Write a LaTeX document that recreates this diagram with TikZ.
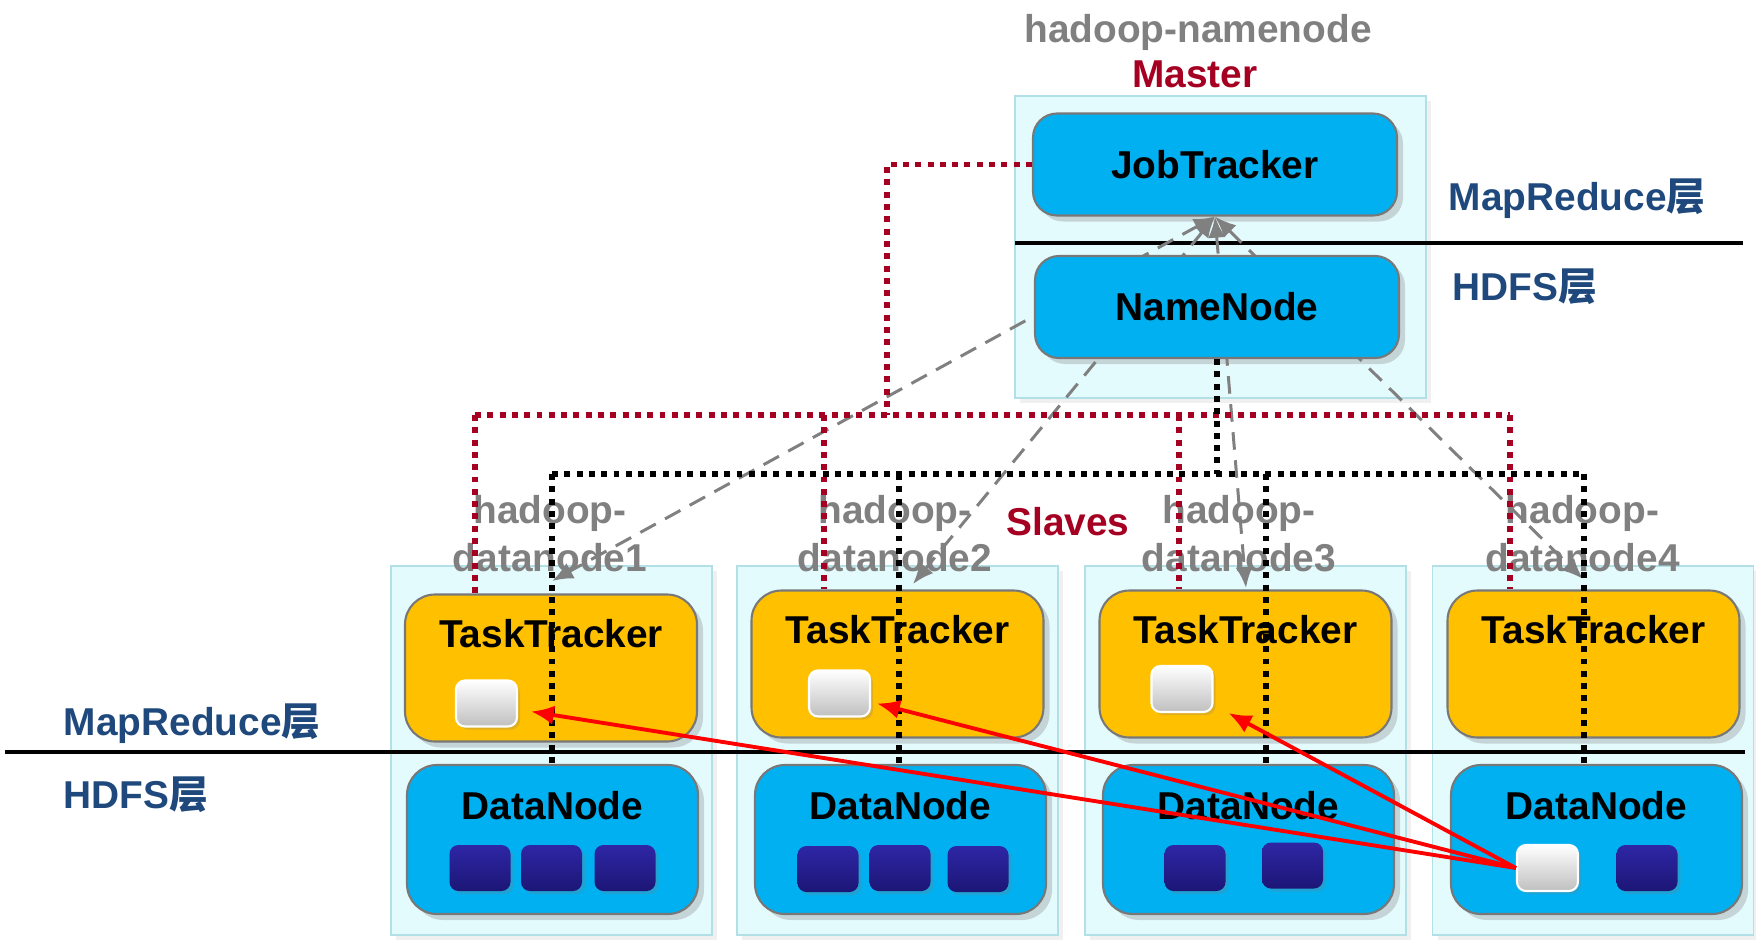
\documentclass[tikz,border=0pt]{standalone}
\usepackage{fontspec}
\setmainfont{Liberation Sans}
\newfontfamily\cjk{Noto Sans CJK SC}
\usepackage{tikz}
\usetikzlibrary{shapes,arrows.meta,positioning,calc,shadows}

\definecolor{hostcyan}{RGB}{228,251,253}
\definecolor{cyanedge}{RGB}{178,224,230}
\definecolor{svcblue}{RGB}{0,176,240}
\definecolor{ttorange}{RGB}{255,192,0}
\definecolor{edgegray}{RGB}{120,120,120}
\definecolor{blkhi}{RGB}{46,38,165}
\definecolor{blklo}{RGB}{28,22,118}
\definecolor{hostred}{RGB}{165,0,33}
\definecolor{hostgray}{RGB}{128,128,128}
\definecolor{layerblue}{RGB}{31,73,125}

\begin{document}
\begin{tikzpicture}[
    x=0.1mm, y=-0.1mm,
    font=\fontsize{11.05pt}{13.6pt}\selectfont\bfseries,
    host/.style={rectangle, draw=cyanedge, line width=0.5pt, fill=hostcyan, drop shadow={shadow xshift=0.5mm, shadow yshift=-0.5mm, opacity=0.12}},
    svc/.style={rectangle, draw=edgegray, line width=0.6pt, fill=svcblue, rounded corners=2.4mm, minimum width=36.4mm, minimum height=10.2mm, drop shadow={shadow xshift=0.6mm, shadow yshift=-0.6mm, opacity=0.3}},
    tracker/.style={svc, fill=ttorange, rounded corners=3mm, minimum width=29.2mm, minimum height=14.7mm},
    store/.style={svc, rounded corners=3mm, minimum width=29.1mm, minimum height=14.9mm},
    chunk/.style={rectangle, rounded corners=0.9mm, minimum width=6.1mm, minimum height=4.6mm, top color=blkhi, bottom color=blklo, drop shadow={shadow xshift=0.3mm, shadow yshift=-0.3mm, opacity=0.25}},
    task/.style={chunk, draw=white, line width=0.6pt, top color=white, bottom color=black!25},
    tag/.style={inner sep=0pt, anchor=base},
    hostname/.style={inner sep=0pt, anchor=north, align=center, text=hostgray},
    tierlabel/.style={inner sep=0pt, anchor=base west, text=layerblue},
    divider/.style={draw=black, line width=0.9pt},
    heartbeat/.style={draw=hostgray, line width=0.85pt, dash pattern=on 5pt off 3pt, {Latex[length=6pt,width=5pt]}-{Latex[length=6pt,width=5pt]}},
    ctrlline/.style={draw=hostred, line width=1.6pt, dash pattern=on 1.7pt off 1.8pt},
    datalink/.style={draw=black, line width=1.6pt, dash pattern=on 1.7pt off 1.8pt},
    dataflow/.style={draw=red, line width=1.1pt, -{Latex[length=6.5pt,width=5.5pt]}}
]
    \useasboundingbox (0,0) rectangle (1756,940);

    % machines
    \node [host, minimum width=41.1mm, minimum height=30.2mm] (master) at (1220.5,247) {};
    \node [host, minimum width=32.1mm, minimum height=36.9mm] (slave1) at (551.5,750.5) {};
    \node [host, minimum width=32.1mm, minimum height=36.9mm] (slave2) at (897.5,750.5) {};
    \node [host, minimum width=32.1mm, minimum height=36.9mm] (slave3) at (1245.5,750.5) {};
    \node [host, minimum width=32.1mm, minimum height=36.9mm] (slave4) at (1593,750.5) {};

    % layer lines
    \coordinate (mr-a) at (1015,243);
    \coordinate (mr-b) at (1743,243);
    \coordinate (ds-a) at (5,752);
    \coordinate (ds-b) at (1745,752);
    \draw [divider] (mr-a) -- (mr-b);
    \draw [divider] (ds-a) -- (ds-b);

    \node [svc] (jt) at (1215,164.5) {JobTracker};

    % heartbeats
    \coordinate (hb1) at (552,581);
    \coordinate (hb2) at (913,584);
    \coordinate (hb3) at (1246,588);
    \coordinate (hb4) at (1583,579);
    \path [heartbeat] (jt.south) -- (hb1);
    \path [heartbeat] (jt.south) -- (hb2);
    \path [heartbeat] (jt.south) -- (hb3);
    \path [heartbeat] (jt.south) -- (hb4);

    \node [svc] (nn) at (1217,307) {NameNode};

    \node [tracker] (tt1) at (551,668) {};
    \node [tracker] (tt2) at (897.5,664) {};
    \node [tracker] (tt3) at (1245.5,664) {};
    \node [tracker] (tt4) at (1593.5,664) {};
    \node [store] (dn1) at (552.5,839.5) {};
    \node [store] (dn2) at (900.5,839.5) {};
    \node [store] (dn3) at (1248.5,839.5) {};
    \node [store] (dn4) at (1596.5,839.5) {};

    \node [tag] (tt1-lbl) at ($(tt1.north)+(0,54)$) {TaskTracker};
    \node [tag] (tt2-lbl) at ($(tt2.north)+(0,54)$) {TaskTracker};
    \node [tag] (tt3-lbl) at ($(tt3.north)+(0,54)$) {TaskTracker};
    \node [tag] (tt4-lbl) at ($(tt4.north)+(0,54)$) {TaskTracker};
    \node [tag] (dn1-lbl) at ($(dn1.north)+(0,56)$) {DataNode};
    \node [tag] (dn2-lbl) at ($(dn2.north)+(0,56)$) {DataNode};
    \node [tag] (dn3-lbl) at ($(dn3.north)+(0,56)$) {DataNode};
    \node [tag] (dn4-lbl) at ($(dn4.north)+(0,56)$) {DataNode};

    % tasks and blocks
    \node [task] (wb1) at (486.5,703.5) {};
    \node [task] (wb2) at (839.5,693.5) {};
    \node [task] (wb3) at (1182,689) {};
    \node [task] (wb4) at (1547.5,868) {};
    \node [chunk] (b11) at (480,868) {};
    \node [chunk] (b12) at (551.5,868) {};
    \node [chunk] (b13) at (625,868) {};
    \node [chunk] (b21) at (828,869) {};
    \node [chunk] (b22) at (900,868) {};
    \node [chunk] (b23) at (978,869) {};
    \node [chunk] (b31) at (1195,868) {};
    \node [chunk] (b32) at (1292.5,865.5) {};
    \node [chunk] (b41) at (1647,868) {};

    % texts
    \node [tag, text=hostgray] (nn-host) at (1198,43) {hadoop-namenode};
    \node [tag, text=hostred] (master-lbl) at (1195,87) {Master};
    \node [tag, text=hostred] (slaves-lbl) at (1068,535) {Slaves};
    \node [tierlabel] (mr-right) at (1448,210) {MapReduce{\cjk 层}};
    \node [tierlabel] (hdfs-right) at (1452,300) {HDFS{\cjk 层}};
    \node [tierlabel] (mr-left) at (63,735) {MapReduce{\cjk 层}};
    \node [tierlabel] (hdfs-left) at (63,808) {HDFS{\cjk 层}};
    \node [hostname] (dn1-host) at (550,495) {hadoop-\\datanode1};
    \node [hostname] (dn2-host) at (895,495) {hadoop-\\datanode2};
    \node [hostname] (dn3-host) at (1239,495) {hadoop-\\datanode3};
    \node [hostname] (dn4-host) at (1582.5,495) {hadoop-\\datanode4};

    % JobTracker to TaskTrackers
    \coordinate (r0) at (887,415);
    \coordinate (r1) at (475,415);
    \coordinate (r2) at (824,415);
    \coordinate (r3) at (1179,415);
    \coordinate (r4) at (1510,415);
    \path [ctrlline] (jt.west) -| (r0);
    \path [ctrlline] (r1) -- (r4);
    \path [ctrlline] (r1) -- (r1 |- tt1.north);
    \path [ctrlline] (r2) -- (r2 |- tt2.north);
    \path [ctrlline] (r3) -- (r3 |- tt3.north);
    \path [ctrlline] (r4) -- (r4 |- tt4.north);

    % NameNode to DataNodes
    \coordinate (k0) at (1217,474);
    \coordinate (k1) at (552,474);
    \coordinate (k2) at (899,474);
    \coordinate (k3) at (1266,474);
    \coordinate (k4) at (1584,474);
    \path [datalink] (nn.south) -- (k0);
    \path [datalink] (k1) -- (k4);
    \path [datalink] (k1) -- (k1 |- dn1.north);
    \path [datalink] (k2) -- (k2 |- dn2.north);
    \path [datalink] (k3) -- (k3 |- dn3.north);
    \path [datalink] (k4) -- (k4 |- dn4.north);

    % block reads
    \path [dataflow] (wb4.west) -- ([shift={(13,8)}]wb1.east);
    \path [dataflow] (wb4.west) -- ([shift={(6,10)}]wb2.east);
    \path [dataflow] (wb4.west) -- ([shift={(15,0)}]wb3.south east);
\end{tikzpicture}
\end{document}
